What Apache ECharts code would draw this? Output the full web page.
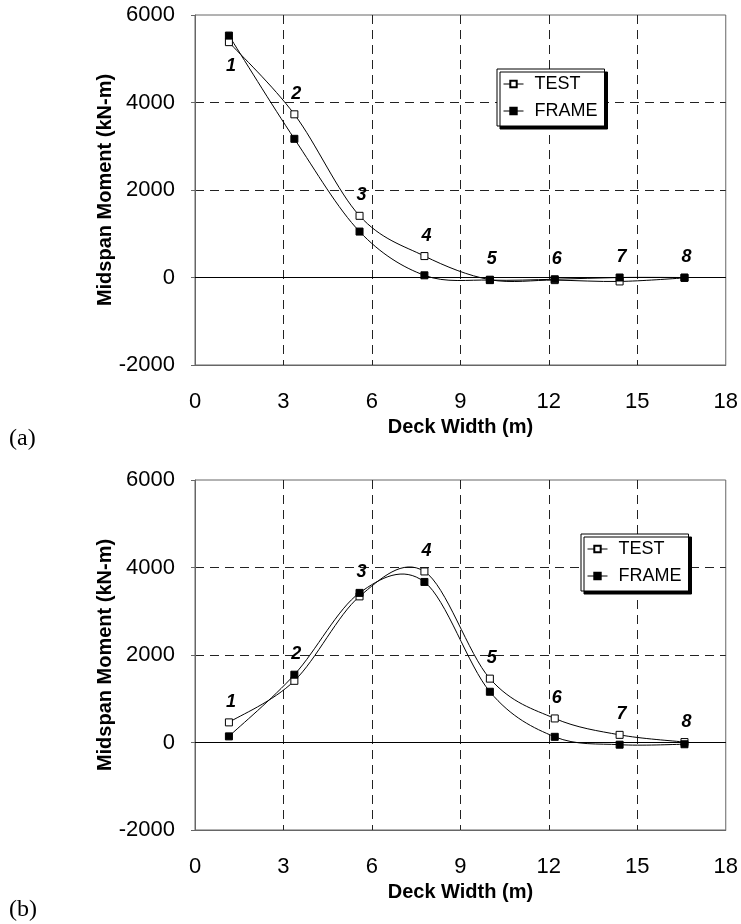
<!DOCTYPE html>
<html>
<head>
<meta charset="utf-8">
<script src="https://cdn.jsdelivr.net/npm/echarts@6/dist/echarts.min.js"></script>
<style>
  html, body { margin: 0; padding: 0; background: #fff; }
  #chart { width: 741px; height: 924px; }
</style>
</head>
<body>
<div id="chart"></div>
<script>
// Deck width positions of the 8 girders (m)
const deckWidth = [1.15, 3.37, 5.58, 7.78, 10.0, 12.2, 14.4, 16.6];
const pointIds = ["1", "2", "3", "4", "5", "6", "7", "8"];

// (a) midspan moments (kN-m)
const testA = [5380, 3730, 1410, 490, -50, -60, -90, -10];
const frameA = [5530, 3170, 1050, 50, -60, -40, 0, 0];

// (b) midspan moments (kN-m)
const testB = [460, 1410, 3340, 3910, 1460, 550, 175, 10];
const frameB = [140, 1550, 3420, 3670, 1160, 130, -50, -40];

const xTicks = { min: 0, max: 18, interval: 3 };
const yTicks = { min: -2000, max: 6000, interval: 2000 };

const FONT = '"Liberation Sans", Arial, sans-serif';

function pairs(xs, ys) {
  return xs.map((x, i) => [x, ys[i]]);
}

function xAxisFor(gridIndex) {
  return {
    gridIndex: gridIndex,
    type: "value",
    min: xTicks.min,
    max: xTicks.max,
    interval: xTicks.interval,
    name: "Deck Width (m)",
    nameLocation: "middle",
    nameGap: 52,
    nameMoveOverlap: false,
    nameTextStyle: { fontFamily: FONT, fontSize: 20, fontWeight: "bold", color: "#000" },
    axisLine: { onZero: false, lineStyle: { color: "#666", width: 1 } },
    axisTick: { show: false },
    axisLabel: { fontFamily: FONT, fontSize: 22, color: "#000", margin: 26 },
    splitLine: {
      show: true,
      showMinLine: false,
      showMaxLine: false,
      lineStyle: { color: "#222", type: [9, 6], width: 1 },
    },
  };
}

function yAxisFor(gridIndex) {
  return {
    gridIndex: gridIndex,
    type: "value",
    min: yTicks.min,
    max: yTicks.max,
    interval: yTicks.interval,
    name: "Midspan Moment (kN-m)",
    nameLocation: "middle",
    nameRotate: 90,
    nameGap: 80,
    nameMoveOverlap: false,
    nameTextStyle: { fontFamily: FONT, fontSize: 20, fontWeight: "bold", color: "#000" },
    axisLine: { show: true, lineStyle: { color: "#666", width: 1 } },
    axisTick: { show: true, length: 4, lineStyle: { color: "#666" } },
    axisLabel: {
      fontFamily: FONT,
      fontSize: 22,
      color: "#000",
      margin: 20,
      formatter: (v) => String(v),
    },
    splitLine: {
      show: true,
      showMinLine: false,
      showMaxLine: false,
      lineStyle: { color: "#222", type: [9, 6], width: 1 },
    },
  };
}

// number labels sit above the higher of the two points (or below, for the first point of (a))
function idLabels(test, frame, belowFirst) {
  return deckWidth.map((x, i) => {
    const below = belowFirst && i === 0;
    const y = below ? Math.min(test[i], frame[i]) : Math.max(test[i], frame[i]);
    const item = { value: [x, y] };
    if (below) item.label = { position: "bottom", distance: 11 };
    return item;
  });
}

// smooth curve like the spreadsheet one (Catmull-Rom through the data points, in pixel space)
function curveSeries(idx, ys) {
  return {
    type: "custom",
    xAxisIndex: idx,
    yAxisIndex: idx,
    silent: true,
    animation: false,
    z: 2,
    data: pairs(deckWidth, ys),
    renderItem: (params, api) => {
      if (params.dataIndex !== 0) return null;
      const pts = deckWidth.map((x, i) => api.coord([x, ys[i]]));
      const n = pts.length;
      const children = [];
      for (let i = 0; i < n - 1; i++) {
        const p0 = pts[Math.max(i - 1, 0)];
        const p1 = pts[i];
        const p2 = pts[i + 1];
        const p3 = pts[Math.min(i + 2, n - 1)];
        children.push({
          type: "bezierCurve",
          shape: {
            x1: p1[0],
            y1: p1[1],
            x2: p2[0],
            y2: p2[1],
            cpx1: p1[0] + (p2[0] - p0[0]) / 6,
            cpy1: p1[1] + (p2[1] - p0[1]) / 6,
            cpx2: p2[0] - (p3[0] - p1[0]) / 6,
            cpy2: p2[1] - (p3[1] - p1[1]) / 6,
          },
          style: { stroke: "#000", fill: null, lineWidth: 1 },
        });
      }
      return { type: "group", children: children };
    },
  };
}

function seriesFor(idx, test, frame, belowFirst) {
  const common = {
    type: "line",
    xAxisIndex: idx,
    yAxisIndex: idx,
    symbol: "rect",
    symbolSize: 7,
    showAllSymbol: true,
    lineStyle: { color: "#000", width: 0, opacity: 0 },
    silent: true,
    animation: false,
  };
  return [
    curveSeries(idx, test),
    curveSeries(idx, frame),
    Object.assign({}, common, {
      name: "TEST",
      data: pairs(deckWidth, test),
      itemStyle: { color: "#fff", borderColor: "#000", borderWidth: 1 },
      markLine: {
        silent: true,
        symbol: "none",
        label: { show: false },
        lineStyle: { color: "#000", type: "solid", width: 1, opacity: 1 },
        data: [{ yAxis: 0 }],
      },
      z: 3,
    }),
    Object.assign({}, common, {
      name: "FRAME",
      data: pairs(deckWidth, frame),
      itemStyle: { color: "#000", borderColor: "#000", borderWidth: 1 },
      z: 4,
    }),
    {
      name: "ids" + idx,
      type: "scatter",
      xAxisIndex: idx,
      yAxisIndex: idx,
      symbol: "rect",
      symbolSize: 7,
      itemStyle: { color: "rgba(255,255,255,0)" },
      silent: true,
      animation: false,
      z: 5,
      label: {
        show: true,
        position: "top",
        distance: 8,
        offset: [2, 0],
        formatter: (p) => pointIds[p.dataIndex],
        fontFamily: FONT,
        fontSize: 18,
        fontStyle: "italic",
        fontWeight: "bold",
        color: "#000",
        opacity: 1,
      },
      data: idLabels(test, frame, belowFirst),
    },
  ];
}

function legendAt(left, top) {
  return {
    data: ["TEST", "FRAME"],
    orient: "vertical",
    left: left,
    top: top,
    padding: [6, 7, 6, 6],
    itemGap: 9,
    itemWidth: 20,
    itemHeight: 8,
    backgroundColor: "#fff",
    borderColor: "#000",
    borderWidth: 1,
    borderRadius: 0,
    shadowColor: "#000",
    shadowBlur: 0,
    shadowOffsetX: 3,
    shadowOffsetY: 3,
    selectedMode: false,
    lineStyle: { color: "#000", width: 1, opacity: 1 },
    textStyle: { fontFamily: FONT, fontSize: 18, color: "#000", padding: [0, 0, 0, 6] },
  };
}

const chart = echarts.init(document.getElementById("chart"), null, { renderer: "canvas" });

const option = {
  backgroundColor: "#fff",
  animation: false,
  grid: [
    { left: 195, top: 15, width: 532, height: 350, show: true, borderColor: "#666", borderWidth: 1, backgroundColor: "#fff" },
    { left: 195, top: 480, width: 532, height: 350, show: true, borderColor: "#666", borderWidth: 1, backgroundColor: "#fff" },
  ],
  legend: [legendAt(497, 69), legendAt(581, 534)],
  xAxis: [xAxisFor(0), xAxisFor(1)],
  yAxis: [yAxisFor(0), yAxisFor(1)],
  series: [].concat(seriesFor(0, testA, frameA, true), seriesFor(1, testB, frameB, false)),
  graphic: [
    {
      type: "text",
      left: 9,
      top: 427,
      style: { text: "(a)", font: '24px "Liberation Serif", "Times New Roman", serif', fill: "#000" },
    },
    {
      type: "text",
      left: 9,
      top: 898,
      style: { text: "(b)", font: '24px "Liberation Serif", "Times New Roman", serif', fill: "#000" },
    },
  ],
};

chart.setOption(option);
</script>
</body>
</html>
